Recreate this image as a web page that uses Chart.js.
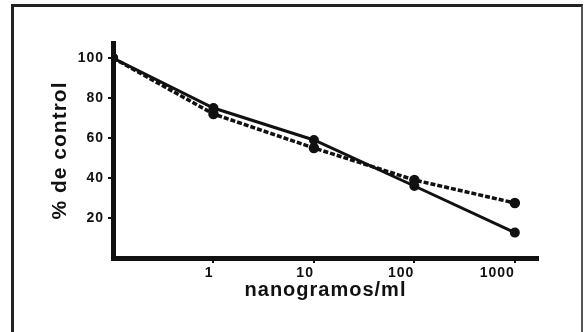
<!DOCTYPE html>
<html>
<head>
<meta charset="utf-8">
<script src="https://cdn.jsdelivr.net/npm/chart.js@4"></script>
<style>
  body { margin: 0; background: #fff; }
  #wrap { position: relative; width: 584px; height: 332px; overflow: hidden; }
  #frame {
    position: absolute; left: 11px; top: 4px; width: 567px; height: 340px;
    border-left: 3px solid #222; border-top: 3px solid #222; border-right: 2px solid #555;
  }
  canvas { position: absolute; left: 0; top: 0; }
</style>
</head>
<body>
<div id="wrap">
  <div id="frame"></div>
  <canvas id="chart" width="584" height="332"></canvas>
</div>
<script>
// dose in ng/ml (first point is the control, drawn on the y axis)
const doses = [0.1, 1, 10, 100, 1000];
const solidValues = [100, 75, 59, 36, 12.7];
const dashedValues = [100, 72, 55, 39, 27.5];
const xTickValues = [1, 10, 100, 1000];
const yTickValues = [20, 40, 60, 80, 100];

const toPoints = vals => doses.map((d, i) => ({ x: d, y: vals[i] }));

// little letter spacing to get the wide old type look
const spacing = {
    id: 'spacing',
    beforeDraw(chart) { chart.ctx.letterSpacing = '1px'; },
    afterDraw(chart) { chart.ctx.letterSpacing = '0px'; }
};

const family = 'Liberation Sans, Arial, sans-serif';
const ctx = document.getElementById('chart').getContext('2d');
new Chart(ctx, {
    type: 'line',
    data: {
        datasets: [{
            label: 'solid',
            data: toPoints(solidValues),
            borderColor: '#111',
            backgroundColor: '#111',
            borderWidth: 3,
            pointRadius: 3.5,
            tension: 0
        }, {
            label: 'dashed',
            data: toPoints(dashedValues),
            borderColor: '#111',
            backgroundColor: '#111',
            borderWidth: 3.5,
            borderDash: [5, 2],
            pointRadius: 3.5,
            tension: 0
        }]
    },
    options: {
        responsive: false,
        animation: false,
        layout: { padding: { top: 43, right: 46, left: 0, bottom: 0 } },
        plugins: { legend: { display: false }, tooltip: { enabled: false } },
        scales: {
            x: {
                type: 'logarithmic',
                min: 0.1,
                max: 1700,
                afterBuildTicks: s => { s.ticks = xTickValues.map(v => ({ value: v })); },
                afterFit: s => { s.height = 74; },
                border: { display: true, color: '#111', width: 5 },
                grid: { drawOnChartArea: false, drawTicks: true, tickLength: 5, color: '#111', lineWidth: 2 },
                ticks: {
                    color: '#111',
                    padding: 2,
                    align: 'end',
                    maxRotation: 0,
                    font: { family: family, size: 14, weight: 'bold' },
                    callback: v => String(v)
                },
                title: {
                    display: true,
                    text: 'nanogramos/ml',
                    color: '#111',
                    font: { family: family, size: 20, weight: 'bold' },
                    padding: { top: 0, bottom: 30 }
                }
            },
            y: {
                min: 0,
                max: 107.5,
                afterBuildTicks: s => { s.ticks = yTickValues.map(v => ({ value: v })); },
                afterFit: s => { s.width = 113; },
                border: { display: true, color: '#111', width: 5 },
                grid: { drawOnChartArea: false, drawTicks: true, tickLength: 5, color: '#111', lineWidth: 2 },
                ticks: {
                    color: '#111',
                    padding: 4,
                    font: { family: family, size: 14, weight: 'bold' }
                },
                title: {
                    display: true,
                    text: '% de control',
                    color: '#111',
                    font: { family: family, size: 21, weight: 'bold' },
                    padding: { top: 48, bottom: 0 }
                }
            }
        }
    },
    plugins: [spacing]
});
</script>
</body>
</html>
